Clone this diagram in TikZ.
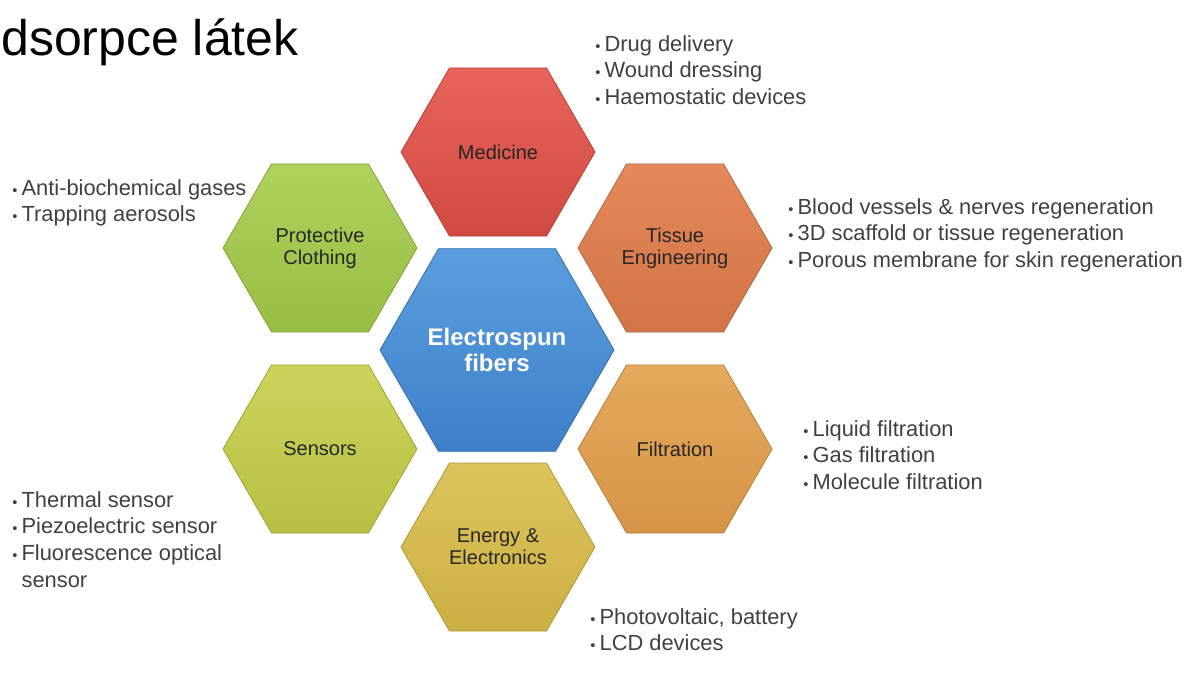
\documentclass[tikz,border=0pt]{standalone}
\usepackage{fontspec}
\setmainfont{Liberation Sans}
\usetikzlibrary{shapes.geometric, positioning}

\definecolor{medTop}{HTML}{E8645B}  \definecolor{medBot}{HTML}{D04A42}
\definecolor{tisTop}{HTML}{E5895A}  \definecolor{tisBot}{HTML}{D27445}
\definecolor{filTop}{HTML}{E5AA5C}  \definecolor{filBot}{HTML}{D69345}
\definecolor{eneTop}{HTML}{DCC45C}  \definecolor{eneBot}{HTML}{CBB043}
\definecolor{senTop}{HTML}{CBD35A}  \definecolor{senBot}{HTML}{B7C043}
\definecolor{proTop}{HTML}{AED25C}  \definecolor{proBot}{HTML}{98BD44}
\definecolor{fibTop}{HTML}{5A9EDF}  \definecolor{fibBot}{HTML}{3E80C8}

\newcommand{\itm}{\makebox[7pt][l]{\fontsize{11}{11}\selectfont\textbullet}}

\begin{document}
\begin{tikzpicture}[
    x=0.75pt, y=-0.75pt,
    hexa/.style={
        regular polygon, regular polygon sides=6,
        minimum size=145.5pt, inner sep=0pt, line width=0.6pt,
        align=center, text=black!85, font=\fontsize{15}{16.5}\selectfont
    },
    core/.style    ={hexa, minimum size=175.5pt, top color=fibTop, bottom color=fibBot,
                     draw=fibBot!85!black, text=white, font=\fontsize{18}{19}\selectfont\bfseries},
    medicine/.style={hexa, top color=medTop, bottom color=medBot, draw=medBot!85!black},
    tissue/.style  ={hexa, top color=tisTop, bottom color=tisBot, draw=tisBot!85!black},
    filter/.style  ={hexa, top color=filTop, bottom color=filBot, draw=filBot!85!black},
    energy/.style  ={hexa, top color=eneTop, bottom color=eneBot, draw=eneBot!85!black},
    sensor/.style  ={hexa, top color=senTop, bottom color=senBot, draw=senBot!85!black},
    protect/.style ={hexa, top color=proTop, bottom color=proBot, draw=proBot!85!black},
    notes/.style   ={anchor=north west, inner sep=0pt, align=left,
                     text=black!75, font=\fontsize{16.4}{20}\selectfont}
]
\useasboundingbox (0,0) rectangle (1194,675);

\node [anchor=base west, inner sep=0pt, font=\fontsize{37.5}{40}\selectfont] (title) at (1,55) {dsorpce látek};

% hexagons
\node [core]     (fibers)  at (497,350) {Electrospun\\fibers};
\node [medicine] (med)     at (498,152) {Medicine};
\node [tissue]   (tissue)  at (675,248) {Tissue\\Engineering};
\node [filter]   (filt)    at (675,449) {Filtration};
\node [energy]   (energy)  at (498,547) {Energy \&\\Electronics};
\node [sensor]   (sens)    at (320,449) {Sensors};
\node [protect]  (prot)    at (320,248) {Protective\\Clothing};

% application lists
\node [notes] (medNotes) at (595,35) {\itm Drug delivery\\ \itm Wound dressing\\ \itm Haemostatic devices};
\node [notes] (tisNotes) at (788,198) {\itm Blood vessels \& nerves regeneration\\ \itm 3D scaffold or tissue regeneration\\ \itm Porous membrane for skin regeneration};
\node [notes] (filNotes) at (803,420) {\itm Liquid filtration\\ \itm Gas filtration\\ \itm Molecule filtration};
\node [notes] (eneNotes) at (590,608) {\itm Photovoltaic, battery\\ \itm LCD devices};
\node [notes] (senNotes) at (12,491) {\itm Thermal sensor\\ \itm Piezoelectric sensor\\ \itm Fluorescence optical\\ \hspace*{7pt}sensor};
\node [notes] (proNotes) at (12,179) {\itm Anti-biochemical gases\\ \itm Trapping aerosols};
\end{tikzpicture}
\end{document}
